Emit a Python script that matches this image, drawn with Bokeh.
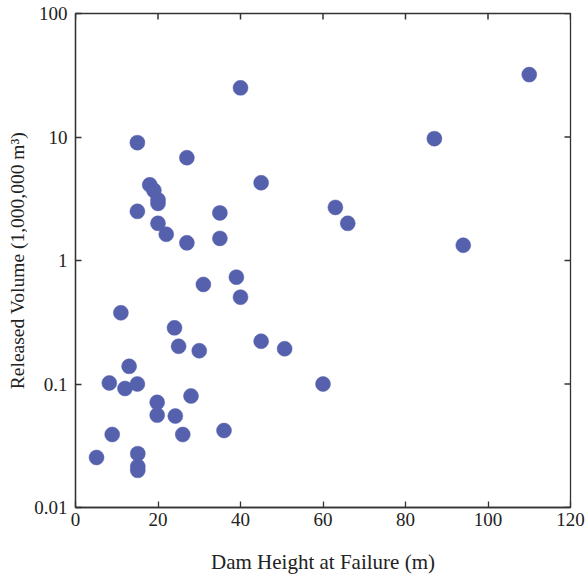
import math
from bokeh.plotting import figure
from bokeh.models import FixedTicker, Range1d, ColumnDataSource
from bokeh.embed import file_html
from bokeh.resources import INLINE

height_m = [40, 110, 87, 15, 27, 18, 19, 20, 20, 15, 20, 22, 27, 35, 35, 45, 63, 66, 94,
            11, 24, 25, 30, 31, 39, 40, 45, 50.7, 60, 13, 8.2, 12, 15, 19.8, 19.8, 24.2,
            28, 8.9, 26, 36, 5.1, 15.1, 15.1, 15.1]
volume = [25, 32, 9.7, 9.0, 6.8, 4.1, 3.7, 3.1, 2.9, 2.5, 2.0, 1.63, 1.39, 2.43, 1.51, 4.26,
          2.69, 2.0, 1.33, 0.377, 0.285, 0.202, 0.186, 0.64, 0.733, 0.505, 0.222, 0.193,
          0.1, 0.139, 0.102, 0.092, 0.1, 0.071, 0.056, 0.055, 0.080, 0.039, 0.039, 0.042,
          0.0254, 0.0273, 0.0215, 0.020]
x_ticks = [0, 20, 40, 60, 80, 100, 120]
y_ticks = [0.01, 0.1, 1, 10, 100]
y_tick_labels = ["0.01", "0.1", "1", "10", "100"]

FONT = "'Liberation Serif', serif"
AXC = "#333333"
XMIN, XMAX, YMIN, YMAX = 0, 120, 0.01, 100

p = figure(width=585, height=578, y_axis_type="log", output_backend="svg",
           toolbar_location=None, x_range=Range1d(XMIN, XMAX), y_range=Range1d(YMIN, YMAX),
           min_border_left=75, min_border_right=15, min_border_top=13, min_border_bottom=71)
p.grid.visible = False
p.outline_line_color = AXC
p.outline_line_width = 1.3
p.background_fill_color = "white"
p.border_fill_color = "white"

src = ColumnDataSource(dict(x=height_m, y=volume))
p.scatter("x", "y", source=src, size=15, fill_color="#5561ad", line_color="#5561ad", line_width=0.5)

# inward ticks on top and right edges (half of each dash is clipped by the frame)
p.scatter(x=x_ticks, y=[YMAX] * len(x_ticks), marker="dash", angle=math.pi / 2, size=12,
          line_color=AXC, line_width=1.5)
p.scatter(x=[XMAX] * len(y_ticks), y=y_ticks, marker="dash", size=12,
          line_color=AXC, line_width=1.5)

def style(ax):
    ax.major_tick_in = 6
    ax.major_tick_out = 0
    ax.minor_tick_in = 0
    ax.minor_tick_out = 0
    ax.axis_line_color = AXC
    ax.axis_line_width = 1.3
    ax.major_tick_line_color = AXC
    ax.major_tick_line_width = 1.3
    ax.major_label_text_font = FONT
    ax.major_label_text_font_size = "19px"
    ax.major_label_text_color = "#222222"
    ax.axis_label_text_font = FONT
    ax.axis_label_text_font_size = "19.5px"
    ax.axis_label_text_font_style = "normal"
    ax.axis_label_text_color = "#222222"

xa = p.xaxis[0]
xa.ticker = FixedTicker(ticks=x_ticks)
xa.axis_label = "Dam Height at Failure (m)"
style(xa)
xa.axis_label_text_font_size = "21px"
xa.major_label_standoff = 5
xa.axis_label_standoff = 21

ya = p.yaxis[0]
ya.ticker = FixedTicker(ticks=y_ticks)
ya.major_label_overrides = {t: l for t, l in zip(y_ticks, y_tick_labels)}
ya.axis_label = "Released Volume (1,000,000 m³)"
ya.major_label_standoff = 8
ya.axis_label_standoff = 3
style(ya)

open("out.html", "w").write(file_html(p, INLINE))
